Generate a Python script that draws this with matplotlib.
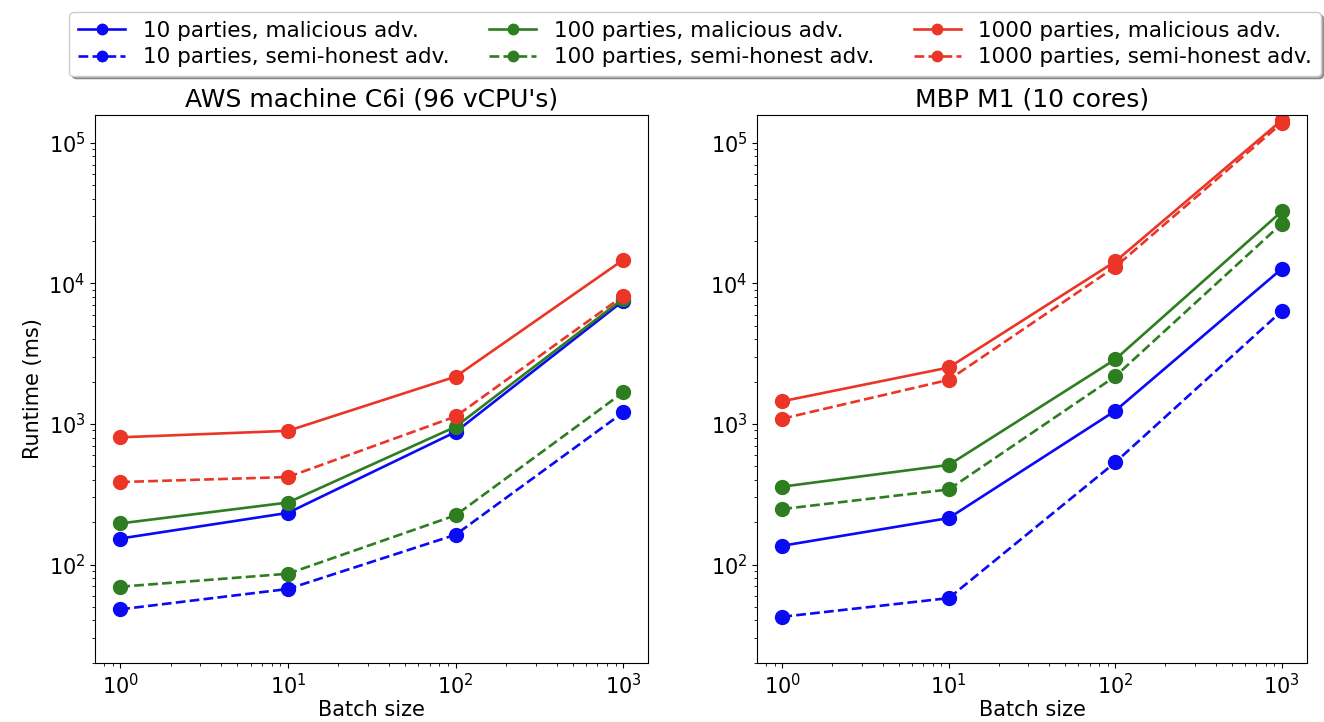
import matplotlib.pyplot as plt
import numpy as np

# batch sizes
batch = [1, 10, 100, 1000]

# AWS machine C6i (96 vCPU's)
aws_10_mal = [153, 233, 877, 7520]
aws_10_semi = [48, 67, 163, 1210]
aws_100_mal = [196, 276, 955, 7780]
aws_100_semi = [69.5, 86, 224, 1680]
aws_1000_mal = [803, 893, 2170, 14700]
aws_1000_semi = [386, 419, 1130, 8150]

# MBP M1 (10 cores)
mbp_10_mal = [136, 214, 1240, 12700]
mbp_10_semi = [42.5, 57.7, 533, 6360]
mbp_100_mal = [358, 511, 2880, 32500]
mbp_100_semi = [248, 342, 2180, 26600]
mbp_1000_mal = [1450, 2520, 14300, 144600]
mbp_1000_semi = [1090, 2060, 13100, 138000]

blue = '#0a0af5'
green = '#2e7d20'
red = '#eb3527'

fig = plt.figure(figsize=(13.24, 7.22), dpi=100)
ax1 = fig.add_axes([0.0718, 0.082, 0.418, 0.759])
ax2 = fig.add_axes([0.572, 0.082, 0.415, 0.759])


def draw(ax, series):
    for vals, color, ls, label in series:
        ax.plot(batch, vals, color=color, linestyle=ls, marker='o',
                markersize=10, linewidth=1.9, label=label)
    ax.set_xscale('log')
    ax.set_yscale('log')
    ax.set_ylim(20, 1.58e5)
    ax.set_xlabel('Batch size', fontsize=15, labelpad=2)
    ax.tick_params(labelsize=15)


draw(ax1, [
    (aws_10_mal, blue, '-', '10 parties, malicious adv.'),
    (aws_10_semi, blue, '--', '10 parties, semi-honest adv.'),
    (aws_100_mal, green, '-', '100 parties, malicious adv.'),
    (aws_100_semi, green, '--', '100 parties, semi-honest adv.'),
    (aws_1000_mal, red, '-', '1000 parties, malicious adv.'),
    (aws_1000_semi, red, '--', '1000 parties, semi-honest adv.'),
])
draw(ax2, [
    (mbp_10_mal, blue, '-', '10 parties, malicious adv.'),
    (mbp_10_semi, blue, '--', '10 parties, semi-honest adv.'),
    (mbp_100_mal, green, '-', '100 parties, malicious adv.'),
    (mbp_100_semi, green, '--', '100 parties, semi-honest adv.'),
    (mbp_1000_mal, red, '-', '1000 parties, malicious adv.'),
    (mbp_1000_semi, red, '--', '1000 parties, semi-honest adv.'),
])

ax1.set_ylabel('Runtime (ms)', fontsize=15)
ax1.set_title("AWS machine C6i (96 vCPU's)", fontsize=18)
ax2.set_title('MBP M1 (10 cores)', fontsize=18)

handles, labels = ax1.get_legend_handles_labels()
fig.legend(handles, labels, loc='upper center', ncol=3, shadow=True,
           bbox_to_anchor=(0.525, 0.998), fontsize=15.5, columnspacing=1.85,
           handlelength=2.2, labelspacing=0.3, markerscale=0.75)

fig.savefig('out.png', dpi=100)
